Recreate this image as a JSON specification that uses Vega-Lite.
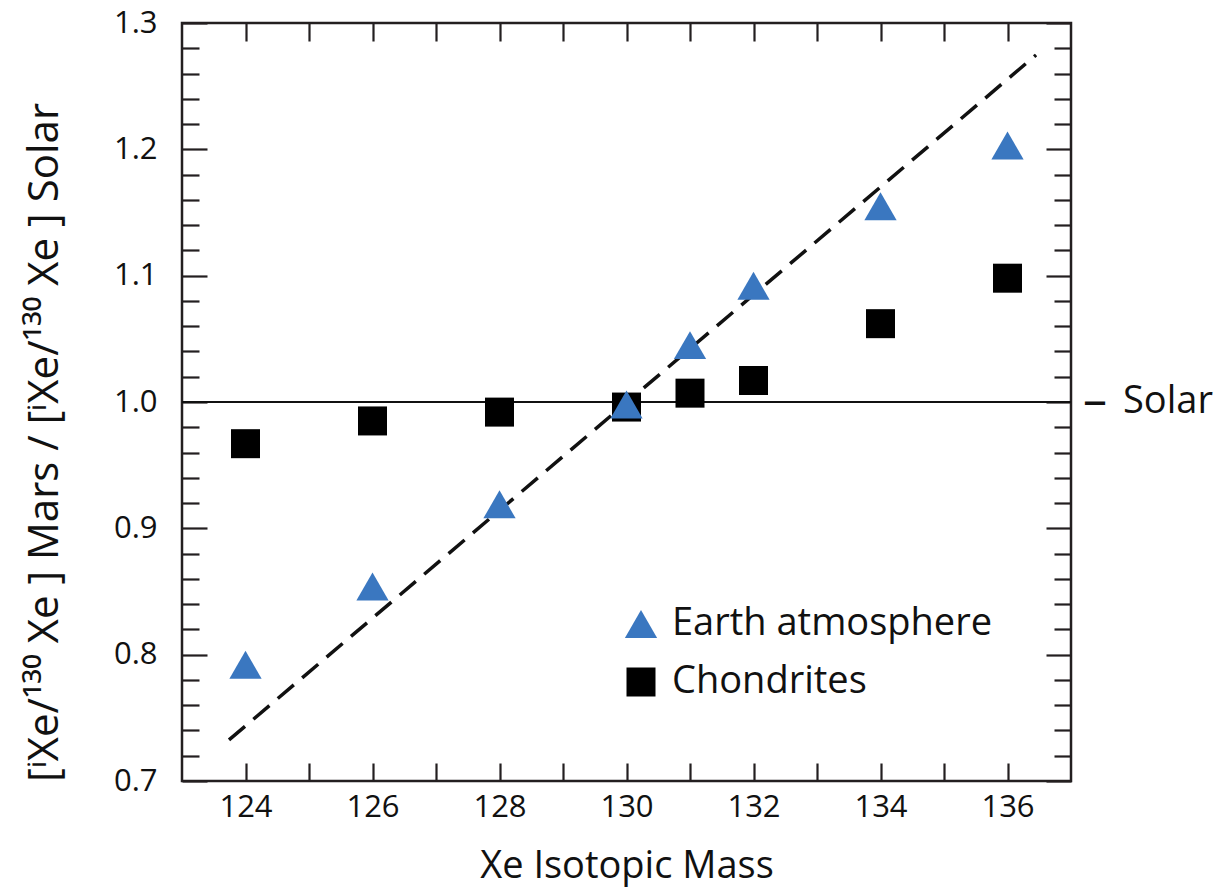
{
  "$schema": "https://vega.github.io/schema/vega-lite/v6.json",
  "width": 889,
  "height": 758,
  "autosize": "none",
  "padding": {"left": 182, "top": 23, "right": 152, "bottom": 107},
  "background": "white",
  "config": {
    "font": "Open Sans",
    "view": {"stroke": "#231f20", "strokeWidth": 2.5},
    "axis": {
      "domain": false,
      "grid": false,
      "tickColor": "#231f20",
      "tickWidth": 2.2,
      "labelColor": "#111111",
      "titleColor": "#111111",
      "labelFont": "Open Sans",
      "titleFont": "Open Sans",
      "labelFontSize": 31,
      "titleFontSize": 38,
      "titleFontWeight": "normal"
    }
  },
  "datasets": {
    "points": [
      {"mass": 124, "ratio": 0.967, "series": "Chondrites"},
      {"mass": 126, "ratio": 0.985, "series": "Chondrites"},
      {"mass": 128, "ratio": 0.992, "series": "Chondrites"},
      {"mass": 130, "ratio": 0.996, "series": "Chondrites"},
      {"mass": 131, "ratio": 1.007, "series": "Chondrites"},
      {"mass": 132, "ratio": 1.017, "series": "Chondrites"},
      {"mass": 134, "ratio": 1.062, "series": "Chondrites"},
      {"mass": 136, "ratio": 1.098, "series": "Chondrites"},
      {"mass": 124, "ratio": 0.792, "series": "Earth atmosphere"},
      {"mass": 126, "ratio": 0.854, "series": "Earth atmosphere"},
      {"mass": 128, "ratio": 0.919, "series": "Earth atmosphere"},
      {"mass": 130, "ratio": 0.998, "series": "Earth atmosphere"},
      {"mass": 131, "ratio": 1.045, "series": "Earth atmosphere"},
      {"mass": 132, "ratio": 1.092, "series": "Earth atmosphere"},
      {"mass": 134, "ratio": 1.155, "series": "Earth atmosphere"},
      {"mass": 136, "ratio": 1.203, "series": "Earth atmosphere"}
    ],
    "fit": [
      {"mass": 123.74, "ratio": 0.7325},
      {"mass": 136.45, "ratio": 1.2747}
    ],
    "solar": [
      {"mass": 137, "ratio": 1.0, "dash": "–", "label": "Solar"}
    ]
  },
  "resolve": {"axis": {"x": "independent", "y": "independent"}},
  "layer": [
    {
      "data": {"name": "solar"},
      "mark": {"type": "rule", "color": "#111111", "strokeWidth": 2},
      "encoding": {
        "y": {"field": "ratio", "type": "quantitative", "scale": {"domain": [0.7, 1.3], "nice": false, "zero": false}, "axis": null}
      }
    },
    {
      "data": {"name": "fit"},
      "mark": {"type": "line", "color": "#111111", "strokeWidth": 3.5, "strokeDash": [21, 11], "strokeCap": "butt"},
      "encoding": {
        "x": {"field": "mass", "type": "quantitative", "scale": {"domain": [123, 137], "nice": false, "zero": false},
          "axis": {"orient": "top", "values": [124,125,126,127,128,129,130,131,132,133,134,135,136], "tickSize": -18, "labels": false, "title": null}},
        "y": {"field": "ratio", "type": "quantitative", "scale": {"domain": [0.7, 1.3], "nice": false, "zero": false},
          "axis": {"orient": "right", "values": [0.7,0.72,0.74,0.76,0.78,0.8,0.82,0.84,0.86,0.88,0.9,0.92,0.94,0.96,0.98,1.0,1.02,1.04,1.06,1.08,1.1,1.12,1.14,1.16,1.18,1.2,1.22,1.24,1.26,1.28,1.3],
            "tickSize": {"condition": {"test": "abs(datum.value*10 - round(datum.value*10)) < 0.01", "value": -25}, "value": -17},
            "labels": false, "title": null}}
      }
    },
    {
      "data": {"name": "solar"},
      "mark": {"type": "text", "align": "left", "baseline": "middle", "dx": 12, "fontSize": 48, "font": "Open Sans", "color": "#111111"},
      "encoding": {
        "x": {"field": "mass", "type": "quantitative", "scale": {"domain": [123, 137], "nice": false, "zero": false}, "axis": null},
        "y": {"field": "ratio", "type": "quantitative", "scale": {"domain": [0.7, 1.3], "nice": false, "zero": false}, "axis": null},
        "text": {"field": "dash"}
      }
    },
    {
      "data": {"name": "solar"},
      "mark": {"type": "text", "align": "left", "baseline": "middle", "dx": 52, "fontSize": 38, "font": "Open Sans", "color": "#111111"},
      "encoding": {
        "x": {"field": "mass", "type": "quantitative", "scale": {"domain": [123, 137], "nice": false, "zero": false}, "axis": null},
        "y": {"field": "ratio", "type": "quantitative", "scale": {"domain": [0.7, 1.3], "nice": false, "zero": false}, "axis": null},
        "text": {"field": "label"}
      }
    },
    {
      "data": {"name": "points"},
      "mark": {"type": "point", "filled": true, "opacity": 1, "strokeWidth": 0},
      "encoding": {
        "x": {"field": "mass", "type": "quantitative", "scale": {"domain": [123, 137], "nice": false, "zero": false},
          "axis": {"orient": "bottom", "values": [124,125,126,127,128,129,130,131,132,133,134,135,136], "tickSize": -18, "labelPadding": 29,
            "labelExpr": "datum.value % 2 == 0 ? datum.label : ''", "title": "Xe Isotopic Mass", "titlePadding": 25}},
        "y": {"field": "ratio", "type": "quantitative", "scale": {"domain": [0.7, 1.3], "nice": false, "zero": false},
          "axis": {"orient": "left", "values": [0.7,0.72,0.74,0.76,0.78,0.8,0.82,0.84,0.86,0.88,0.9,0.92,0.94,0.96,0.98,1.0,1.02,1.04,1.06,1.08,1.1,1.12,1.14,1.16,1.18,1.2,1.22,1.24,1.26,1.28,1.3],
            "tickSize": {"condition": {"test": "abs(datum.value*10 - round(datum.value*10)) < 0.01", "value": -25}, "value": -17},
            "labelPadding": 50,
            "labelExpr": "abs(datum.value*10 - round(datum.value*10)) < 0.01 ? format(datum.value, '.1f') : ''",
            "title": "[ⁱXe/¹³⁰ Xe ] Mars / [ⁱXe/¹³⁰ Xe ] Solar",
            "titleFontSize": 42, "titleAngle": 270, "titleBaseline": "alphabetic", "titleAlign": "center",
            "titleX": -125, "titleY": 419}},
        "shape": {"field": "series", "type": "nominal", "scale": {"domain": ["Earth atmosphere", "Chondrites"], "range": ["triangle-up", "square"]}},
        "color": {"field": "series", "type": "nominal", "scale": {"domain": ["Earth atmosphere", "Chondrites"], "range": ["#3a77c0", "#000000"]}},
        "size": {"field": "series", "type": "nominal", "scale": {"domain": ["Earth atmosphere", "Chondrites"], "range": [1040, 841]},
          "legend": {"orient": "none", "legendX": 440, "legendY": 582, "title": null, "padding": 0, "labelFontSize": 38, "labelFont": "Open Sans", "labelColor": "#111111", "labelLimit": 0, "labelOffset": 12, "rowPadding": 20, "symbolStrokeWidth": 0}}
      }
    }
  ]
}
